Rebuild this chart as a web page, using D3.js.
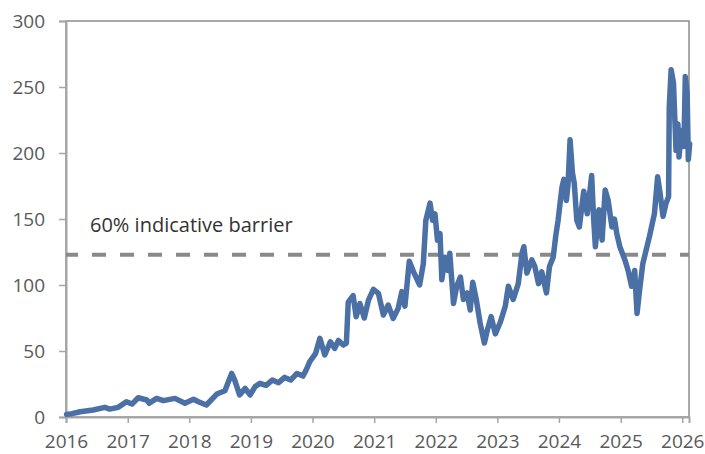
<!DOCTYPE html>
<html>
<head>
<meta charset="utf-8">
<script src="https://cdn.jsdelivr.net/npm/d3@7"></script>
<style>
  body { margin: 0; background: #fff; }
  text { font-family: "Open Sans", sans-serif; }
</style>
</head>
<body>
<script>
// price series
const dates = [
  "2016-01-04", "2016-02-06", "2016-03-25", "2016-06-10", "2016-08-18", "2016-09-16",
  "2016-11-06", "2016-12-24", "2017-01-26", "2017-03-04", "2017-04-24", "2017-05-08",
  "2017-06-21", "2017-07-31", "2017-10-08", "2017-12-06", "2018-01-26", "2018-02-24",
  "2018-04-12", "2018-06-13", "2018-07-31", "2018-09-09", "2018-09-27", "2018-10-26",
  "2018-11-28", "2018-12-27", "2019-01-26", "2019-02-24", "2019-04-01", "2019-05-08",
  "2019-06-14", "2019-07-20", "2019-08-25", "2019-10-01", "2019-11-06", "2019-11-26",
  "2019-12-16", "2020-01-19", "2020-02-14", "2020-03-14", "2020-04-16", "2020-05-12",
  "2020-06-03", "2020-07-02", "2020-07-20", "2020-07-31", "2020-08-29", "2020-09-16",
  "2020-10-08", "2020-11-03", "2020-11-28", "2020-12-27", "2021-01-26", "2021-02-24",
  "2021-03-25", "2021-04-23", "2021-05-23", "2021-06-14", "2021-07-02", "2021-07-28",
  "2021-08-22", "2021-09-13", "2021-09-27", "2021-10-19", "2021-11-03", "2021-11-28",
  "2021-12-13", "2021-12-27", "2022-01-11", "2022-01-26", "2022-02-06", "2022-02-24",
  "2022-03-14", "2022-03-25", "2022-04-16", "2022-05-05", "2022-05-27", "2022-06-14",
  "2022-07-06", "2022-07-24", "2022-08-08", "2022-08-29", "2022-09-21", "2022-10-16",
  "2022-11-03", "2022-11-25", "2022-12-20", "2023-01-19", "2023-02-17", "2023-03-07",
  "2023-04-05", "2023-05-05", "2023-05-27", "2023-06-07", "2023-06-25", "2023-07-24",
  "2023-08-11", "2023-09-02", "2023-09-21", "2023-10-19", "2023-11-06", "2023-11-28",
  "2023-12-13", "2023-12-27", "2024-01-19", "2024-01-30", "2024-02-14", "2024-02-24",
  "2024-03-07", "2024-03-21", "2024-04-01", "2024-04-16", "2024-05-01", "2024-05-27",
  "2024-06-17", "2024-07-13", "2024-07-24", "2024-08-04", "2024-08-25", "2024-09-13",
  "2024-10-01", "2024-10-19", "2024-11-10", "2024-11-25", "2024-12-09", "2024-12-27",
  "2025-01-26", "2025-02-14", "2025-03-07", "2025-03-25", "2025-04-08", "2025-04-23",
  "2025-05-12", "2025-06-21", "2025-07-20", "2025-08-08", "2025-08-22", "2025-09-09",
  "2025-09-27", "2025-10-12", "2025-10-16", "2025-10-27", "2025-11-10", "2025-11-25",
  "2025-12-06", "2025-12-13", "2025-12-27", "2026-01-11", "2026-01-19", "2026-01-30",
  "2026-02-06", "2026-02-14"
];
const prices = [
  2, 2.5, 4, 5.3, 7.3, 6,
  7.3, 11.6, 9.8, 14.6, 12.9, 10.4,
  14.1, 12.4, 14.1, 10.4, 13.4, 11.6,
  9.1, 17.4, 19.9, 33, 28, 16.7,
  21.7, 16.7, 23, 25.5, 24, 28,
  26, 30, 28, 33, 31, 36,
  42, 48, 59.6, 47, 57, 52,
  58, 54.5, 56, 87, 92, 76,
  86, 75, 88.6, 96.7, 93.7, 77.3,
  84.8, 74.7, 82.3, 95, 84, 118,
  110, 104, 100, 116, 149, 162,
  149, 154, 134, 139, 104, 121,
  111, 124, 86, 99, 106, 89,
  94, 81, 102, 89, 71, 56,
  66, 76, 63, 72, 84, 99,
  89, 101, 124, 129, 109, 119,
  114, 101, 110, 94, 114, 121,
  137, 149, 174, 180, 164, 176,
  210, 185, 177, 149, 144, 171,
  154, 183, 152, 129, 157, 134,
  172, 164, 144, 150, 139, 129,
  119, 111, 99, 111, 78.5, 96,
  116, 137, 154, 182, 170, 152,
  162, 167, 235, 263, 253, 202,
  222, 197, 217, 205, 258, 245,
  195, 207
];
const yTicks = [0, 50, 100, 150, 200, 250, 300];
const xTickYears = [2016, 2017, 2018, 2019, 2020, 2021, 2022, 2023, 2024, 2025, 2026];
const barrier = 123;
const barrierLabel = "60% indicative barrier";

const width = 705;
const height = 454;
const margin = { top: 21, right: 16, bottom: 37, left: 66 };

const parse = d3.timeParse("%Y-%m-%d");
const series = dates.map((d, i) => ({ date: parse(d), value: prices[i] }));

const svg = d3
  .select("body")
  .append("svg")
  .attr("width", width)
  .attr("height", height);

const x = d3
  .scaleTime()
  .domain([new Date(2016, 0, 1), new Date(2026, 1, 10)])
  .range([margin.left, width - margin.right]);

const y = d3
  .scaleLinear()
  .domain([0, 300])
  .range([height - margin.bottom, margin.top]);

// frame
svg
  .append("rect")
  .attr("x", margin.left)
  .attr("y", margin.top)
  .attr("width", width - margin.left - margin.right)
  .attr("height", height - margin.top - margin.bottom)
  .attr("fill", "none")
  .attr("stroke", "#8c8c8c")
  .attr("stroke-width", 1.5);

const yAxis = svg
  .append("g")
  .attr("transform", `translate(${margin.left},0)`)
  .call(d3.axisLeft(y).tickValues(yTicks).tickSize(7).tickPadding(14));

const xAxis = svg
  .append("g")
  .attr("transform", `translate(0,${height - margin.bottom})`)
  .call(
    d3
      .axisBottom(x)
      .tickValues(xTickYears.map((yr) => new Date(yr, 0, 1)))
      .tickFormat(d3.timeFormat("%Y"))
      .tickSize(6)
      .tickPadding(12)
  );

[yAxis, xAxis].forEach((g) => {
  g.select(".domain").attr("stroke", "#a6a6a6").attr("stroke-width", 2);
  g.selectAll(".tick line").attr("stroke", "#a6a6a6").attr("stroke-width", 1.5);
  g.selectAll(".tick text")
    .attr("fill", "#595959")
    .style("font-size", "19px");
});

// barrier
svg
  .append("line")
  .attr("x1", margin.left)
  .attr("x2", width - margin.right)
  .attr("y1", y(barrier))
  .attr("y2", y(barrier))
  .attr("stroke", "#898989")
  .attr("stroke-width", 4)
  .attr("stroke-dasharray", "14,14")
  .attr("stroke-dashoffset", 2);

svg
  .append("text")
  .attr("x", 90)
  .attr("y", y(barrier) - 23)
  .attr("fill", "#333")
  .style("font-size", "20px")
  .text(barrierLabel);

const line = d3
  .line()
  .x((d) => x(d.date))
  .y((d) => y(d.value));

svg
  .append("path")
  .datum(series)
  .attr("d", line)
  .attr("fill", "none")
  .attr("stroke", "#4a70a6")
  .attr("stroke-width", 5.5)
  .attr("stroke-linejoin", "round")
  .attr("stroke-linecap", "round");
</script>
</body>
</html>
